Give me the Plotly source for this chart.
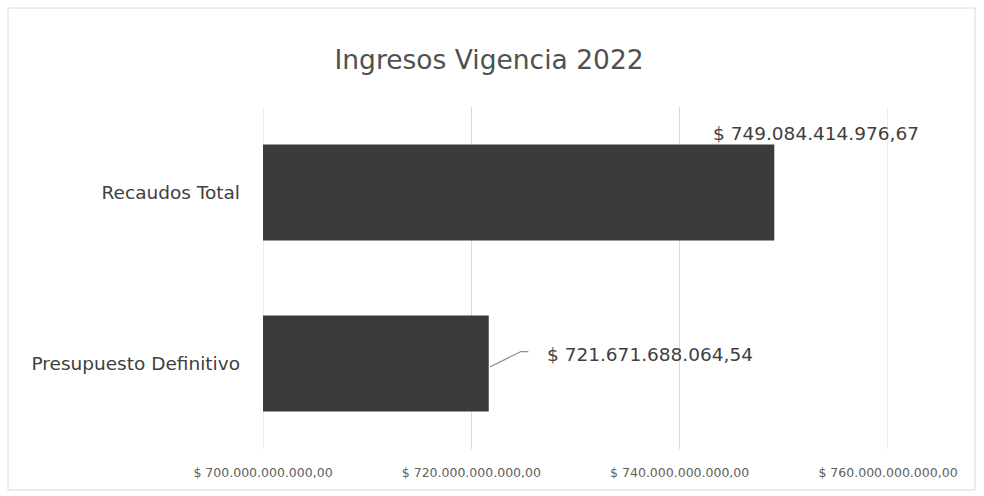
import plotly.graph_objects as go

# Income figures for the 2022 fiscal period
categories = ["Presupuesto Definitivo", "Recaudos Total"]
values = [721671688064.54, 749084414976.67]
value_labels = ["$ 721.671.688.064,54", "$ 749.084.414.976,67"]

tick_values = [700e9, 720e9, 740e9, 760e9]
tick_labels = ["$ 700.000.000.000,00", "$ 720.000.000.000,00",
               "$ 740.000.000.000,00", "$ 760.000.000.000,00"]

W, H = 984, 496
FONT = "DejaVu Sans"
TEXT = "#404040"

fig = go.Figure()
fig.add_trace(go.Bar(
    y=categories, x=values, orientation="h",
    marker=dict(color="#3b3b3b", line=dict(width=0)),
    width=0.56, hoverinfo="skip",
))

# gridlines at the two ends of the value range
for tv in (tick_values[0], tick_values[-1]):
    fig.add_shape(type="line", xref="x", yref="paper", x0=tv, x1=tv, y0=0, y1=1,
                  line=dict(color="#d9d9d9", width=1), layer="below")

# value label above the end of the upper bar
fig.add_annotation(
    x=values[1], y=categories[1], xref="x", yref="y",
    text=value_labels[1], showarrow=False,
    xanchor="left", yanchor="middle", xshift=-63, yshift=59,
    font=dict(family=FONT, size=18.5, color=TEXT),
)
# value label beside the lower bar, with a leader line
fig.add_annotation(
    x=values[0] + 5.4e9, y=0, xref="x", yref="y",
    text=value_labels[0], showarrow=False,
    xanchor="left", yanchor="middle", yshift=9,
    font=dict(family=FONT, size=18.5, color=TEXT),
)
v = values[0]
fig.add_shape(
    type="path", xref="x", yref="y",
    path=f"M {v + 0.1e9} -0.02 L {v + 3.1e9} 0.07 L {v + 3.8e9} 0.07",
    line=dict(color="#8c8c8c", width=1.2),
)

# light outer frame of the chart area
fig.add_shape(
    type="rect", xref="paper", yref="paper",
    x0=-263 / 625 + 8 / 625, x1=1 + (975 - 888) / 625,
    y0=(449 - 490) / 342, y1=1 + (107 - 8) / 342,
    line=dict(color="#dadada", width=1), layer="below",
)

fig.update_layout(
    width=W, height=H,
    margin=dict(l=263, r=96, t=107, b=47),
    paper_bgcolor="white", plot_bgcolor="white",
    showlegend=False, bargap=0.44,
    title=dict(text="Ingresos Vigencia 2022", x=0.497, xanchor="center",
               y=1 - 60 / H, yanchor="middle",
               font=dict(family=FONT, size=26.5, color="#505050")),
    xaxis=dict(range=[700e9, 760e9], tickvals=tick_values, ticktext=tick_labels,
               showgrid=True, gridcolor="#d9d9d9", gridwidth=1,
               zeroline=False, showline=False, ticks="",
               ticklabelstandoff=14,
               tickfont=dict(family=FONT, size=12.5, color="#606060")),
    yaxis=dict(categoryorder="array", categoryarray=categories,
               showgrid=False, zeroline=False, showline=False, ticks="",
               ticklabelstandoff=22,
               tickfont=dict(family=FONT, size=18.5, color=TEXT)),
)

fig.write_html("out.html")
